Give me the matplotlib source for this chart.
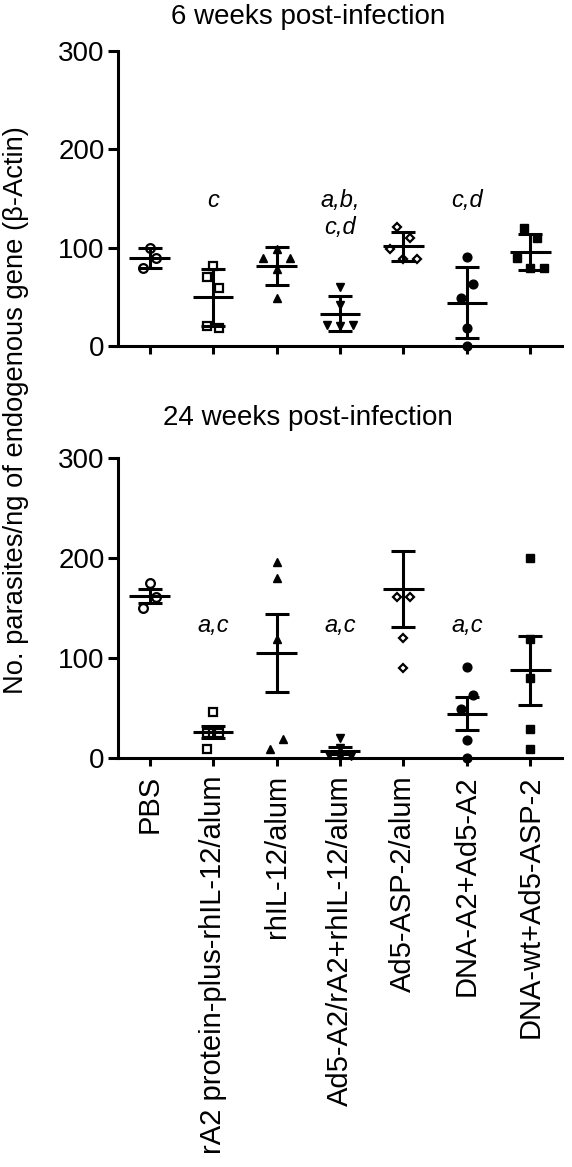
import numpy as np
import matplotlib
matplotlib.use("Agg")
import matplotlib.pyplot as plt
from matplotlib.patches import Rectangle

plt.rcParams['font.family'] = ['Liberation Sans', 'DejaVu Sans']

groups = ["PBS", "rA2 protein-plus-rhIL-12/alum", "rhIL-12/alum",
          "Ad5-A2/rA2+rhIL-12/alum", "Ad5-ASP-2/alum", "DNA-A2+Ad5-A2",
          "DNA-wt+Ad5-ASP-2"]

# 6 weeks (mean +/- SD)
week6 = [
    [100, 90, 79],
    [81, 70, 59, 20, 18],
    [99, 90, 90, 78, 49],
    [60, 42, 21, 21, 20],
    [121, 110, 99, 88, 88],
    [91, 63, 49, 18, 0],
    [120, 110, 90, 79, 79],
]
# 24 weeks (mean +/- SEM); one Ad5-ASP-2 value lies above the axis
week24 = [
    [175, 161, 150],
    [46, 25, 25, 25, 9],
    [196, 180, 119, 19, 9],
    [20, 10, 3, 2, 1],
    [161, 161, 120, 90, 313],
    [91, 63, 49, 18, 0],
    [200, 119, 80, 29, 9],
]
letters6 = ["", "c", "", "a,b,\nc,d", "", "c,d", ""]
letters24 = ["", "a,c", "", "a,c", "", "a,c", ""]

# horizontal scatter of points within a column
jit6 = [
    [0, 0.1, -0.1],
    [0, -0.1, 0.1, -0.1, 0.1],
    [0, -0.21, 0.21, 0, 0],
    [0, 0, -0.21, 0.21, 0],
    [-0.1, 0.1, -0.21, 0, 0.21],
    [0, 0.1, -0.1, 0, 0],
    [-0.1, 0.1, -0.21, 0, 0.21],
]
jit24 = [
    [0, 0.1, -0.1],
    [0, -0.1, 0, 0.1, -0.1],
    [0, 0, 0, 0.1, -0.1],
    [0, 0, -0.18, 0.18, 0],
    [-0.1, 0.1, 0, 0, 0],
    [0, 0.1, -0.1, 0, 0],
    [0, 0, 0, 0, 0],
]

# marker, face, size, edge width
styles = [("o", "white", 6.3, 1.6), ("s", "white", 5.8, 1.6), ("^", "black", 6.3, 1),
          ("v", "black", 6.3, 1), ("D", "white", 4.3, 1.6), ("o", "black", 6.3, 1),
          ("s", "black", 6.2, 1)]

lw = 2.2
fig = plt.figure(figsize=(5.72, 11.67), dpi=100)
ax1 = fig.add_axes([0.2063, 0.7035, 0.7762, 0.2528])
ax2 = fig.add_axes([0.2063, 0.3507, 0.7762, 0.2568])


def panel(ax, data, jit, letters, err, ann_y):
    x = np.arange(len(groups))
    clip = Rectangle((0, -0.1), 1, 1.1, transform=ax.transAxes,
                     facecolor="none", edgecolor="none")
    for i, vals in enumerate(data):
        vals = np.array(vals, dtype=float)
        m, fc, ms, mew = styles[i]
        pts, = ax.plot(x[i] + np.array(jit[i]), vals, linestyle="none",
                       marker=m, markerfacecolor=fc, markeredgecolor="black",
                       markeredgewidth=mew, markersize=ms, zorder=2)
        pts.set_clip_path(clip)
        mean = vals.mean()
        sd = vals.std(ddof=1)
        e = sd if err == "sd" else sd / np.sqrt(len(vals))
        ax.hlines(mean, x[i] - 0.32, x[i] + 0.32, color="black", lw=lw, zorder=3)
        ax.errorbar(x[i], mean, yerr=e, fmt="none", ecolor="black",
                    elinewidth=lw, capsize=8.6, capthick=lw, zorder=3)
        for k, line in enumerate(letters[i].split("\n")):
            if line:
                ax.annotate(line, (x[i], ann_y), xytext=(0, -19.4 * k),
                            textcoords="offset points", ha="center",
                            va="baseline", fontsize=17, style="italic")
    ax.set_xlim(-0.5, 6.5)
    ax.set_ylim(0, 300)
    ax.set_yticks([0, 100, 200, 300])
    ax.set_xticks(x)
    for s in ["top", "right"]:
        ax.spines[s].set_visible(False)
    for s in ["left", "bottom"]:
        ax.spines[s].set_linewidth(lw)
    ax.tick_params(axis="y", length=7.5, width=lw, pad=2, labelsize=20)
    ax.tick_params(axis="x", length=6, width=lw, pad=6.5, labelsize=21)


panel(ax1, week6, jit6, letters6, "sd", 141)
panel(ax2, week24, jit24, letters24, "sem", 126)
ax1.set_xticklabels([])
ax2.set_xticklabels(groups, rotation=90)

fig.text(308 / 572, 1 - 17.5 / 1167, "6 weeks post-infection",
         ha="center", va="center", fontsize=20)
fig.text(308 / 572, 1 - 418 / 1167, "24 weeks post-infection",
         ha="center", va="center", fontsize=20)
fig.text(16 / 572, 1 - 410 / 1167,
         "No. parasites/ng of endogenous gene (\u03b2-Actin)",
         ha="center", va="center", rotation=90, fontsize=19.7)

fig.savefig("out.png", dpi=100)
